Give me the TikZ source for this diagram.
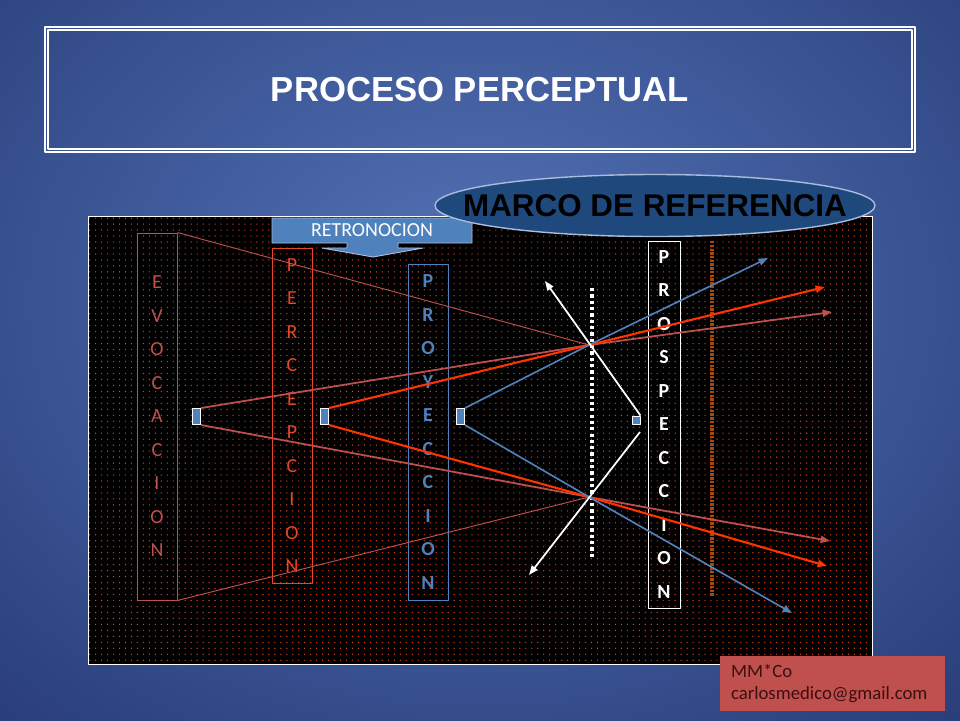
\documentclass[tikz,border=0pt]{standalone}
\usepackage{fontspec}
\setmainfont{Carlito}
\newfontfamily\arialfont{Liberation Sans}
\usetikzlibrary{shapes.geometric,arrows.meta,patterns.meta,calc}

\definecolor{evored}{HTML}{C0504D}
\definecolor{percbox}{HTML}{E8462A}
\definecolor{percline}{HTML}{FF3300}
\definecolor{proyblue}{HTML}{4F81BD}
\definecolor{bgin}{HTML}{5474B8}
\definecolor{bgout}{HTML}{1E306A}
\definecolor{ovalblue}{HTML}{1F497D}
\definecolor{ovalrim}{HTML}{A8BCDC}
\definecolor{brownline}{HTML}{A8480F}
\definecolor{dotred}{HTML}{E0401F}
\definecolor{signtext}{HTML}{3C0F0F}

\begin{document}
\begin{tikzpicture}[x=0.3mm, y=-0.3mm, line join=round,
    letters/.style={draw, line width=0.8pt, minimum width=12mm, inner sep=0pt, align=center,
      font=\fontsize{17}{28.6}\selectfont},
    bold letters/.style={letters, font=\fontsize{17}{28.6}\selectfont\bfseries},
    sq/.style={draw=white, line width=0.8pt, fill=proyblue, minimum width=2.4mm, minimum height=4.8mm, inner sep=0pt},
    tip/.style={-{Triangle[length=8pt, width=6pt]}},
    evo ray/.style={tip, draw=evored, line width=1.5pt},
    perc ray/.style={tip, draw=percline, line width=1.8pt},
    proy ray/.style={tip, draw=proyblue, line width=1.4pt},
    white ray/.style={tip, draw=white, line width=1.5pt},
    evo edge/.style={draw=evored, line width=0.8pt}
  ]
  \useasboundingbox (0,0) rectangle (960,720);
  \begin{scope}
    \clip (0,0) rectangle (960,720);
    \shade[inner color=bgin, outer color=bgout] (-420,-420) rectangle (1380,1020);
  \end{scope}

  \node[draw=white, line width=1pt, minimum width=261mm, minimum height=37.5mm, text=white,
    font=\arialfont\bfseries\fontsize{29.6}{34}\selectfont] (title) at (480,89.5) {PROCESO PERCEPTUAL};
  \draw[white, line width=1.8pt] ($(title.north west)+(4,4)$) rectangle ($(title.south east)+(-4,-4)$);

  \path[fill=black] (88,216) rectangle (872,664);
  \path[pattern={Dots[radius=0.6pt, distance=5.1pt]}, pattern color=dotred] (88,216) rectangle (872,664);
  \draw[white, line width=0.8pt] (88,216) rectangle (872,664);

  \draw[white, line width=2.8pt, dash pattern=on 2.8pt off 2.6pt] (592,288) -- (592,560);
  \draw[brownline, line width=2.6pt, dash pattern=on 2pt off 1.2pt] (712,241) -- (712,597);

  \node[letters, draw=evored, text=evored, minimum height=110.1mm] (evo) at (157,416.5) {E\\V\\O\\C\\A\\C\\I\\O\\N};
  \node[letters, draw=percbox, text=percbox, minimum height=100.5mm] (perc) at (292,415.5) {P\\E\\R\\C\\E\\P\\C\\I\\O\\N};
  \node[bold letters, draw=proyblue, text=proyblue, minimum height=100.8mm] (proy) at (428,432) {P\\R\\O\\Y\\E\\C\\C\\I\\O\\N};
  \node[bold letters, draw=white, text=white, minimum width=9.6mm, minimum height=110.1mm] (pros) at (664,424.5) {P\\R\\O\\S\\P\\E\\C\\C\\I\\O\\N};

  \node[sq] (sq1) at (196.5,416.5) {};
  \node[sq] (sq2) at (324.5,416.5) {};
  \node[sq] (sq3) at (460.5,416.5) {};
  \node[sq, minimum height=2.4mm] (sq4) at (636,420) {};

  \coordinate (xup) at (589,345);
  \coordinate (xdn) at (589,497);
  \coordinate (e1) at (832,312);
  \coordinate (e2) at (830,541);
  \coordinate (e3) at (825,287);
  \coordinate (e4) at (827,566);
  \coordinate (e5) at (768,258);
  \coordinate (e6) at (792,613);
  \coordinate (w0) at (640,432);
  \coordinate (w1) at (545,281);
  \coordinate (w2) at (529,575);

  \draw[evo edge] (evo.north east) -- (xup);
  \draw[evo edge] (evo.south east) -- (xdn);
  \draw[evo ray] (sq1.north east) -- (xup) -- (e1);
  \draw[evo ray] (sq1.south east) -- (xdn) -- (e2);
  \draw[perc ray] (sq2.north east) -- (xup) -- (e3);
  \draw[perc ray] (sq2.south east) -- (xdn) -- (e4);
  \draw[proy ray] (sq3.north east) -- (xup) -- (e5);
  \draw[proy ray] (sq3.south east) -- (xdn) -- (e6);
  \draw[white ray] (sq4.north east) -- (w1);
  \draw[white ray] (w0) -- (w2);

  \node[sq] at (sq1) {};
  \node[sq] at (sq2) {};
  \node[sq] at (sq3) {};

  \draw[draw=ovalrim, fill=proyblue, line width=0.8pt] (272,218) -- (472,218) -- (472,243) -- (398,243)
    -- (398,248) -- (423,248) -- (373,257) -- (322,248) -- (347,248) -- (347,243) -- (272,243) -- cycle;
  \node[text=white, font=\fontsize{17}{20}\selectfont] (retro) at (372,230.5) {RETRONOCION};

  \node[ellipse, draw=ovalrim, fill=ovalblue, line width=1.2pt, minimum width=132mm, minimum height=18.6mm,
    label={[font=\arialfont\bfseries\fontsize{26.8}{30}\selectfont, text=black]center:MARCO DE REFERENCIA}]
    (marco) at (655,205.5) {};

  \node[fill=evored, minimum width=67.5mm, minimum height=16.5mm, text width=60.9mm, align=left,
    text=signtext, font=\fontsize{16}{18.8}\selectfont] (sign) at (832.5,683.5) {MM*Co\\carlosmedico@gmail.com};
\end{tikzpicture}
\end{document}
